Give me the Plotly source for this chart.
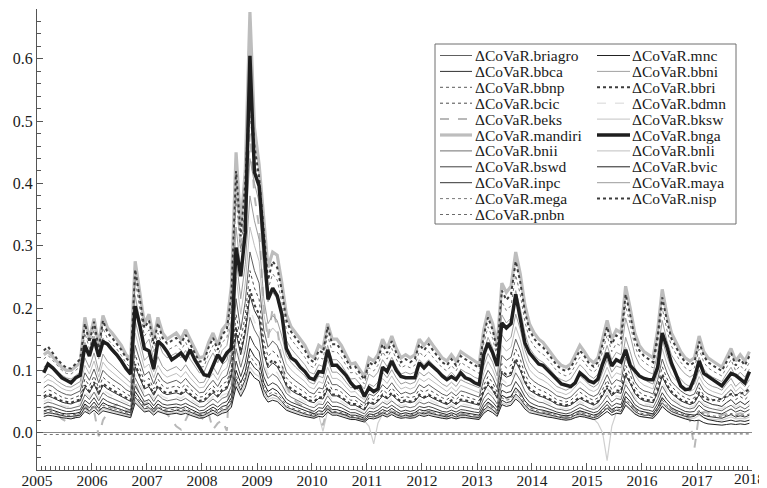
import pandas as pd
import plotly.graph_objects as go

# monthly observations, Feb 2005 .. Dec 2017 (plotted mid-month)
dates = pd.date_range("2005-02-01", "2017-12-01", freq="MS") + pd.Timedelta(days=14)
year_ticks = [str(y) for y in range(2005, 2019)]

bnga = [
 0.096,0.110,0.104,0.096,0.088,0.084,0.080,0.088,0.092,0.140,0.123,
 0.150,0.122,0.146,0.142,0.133,0.125,0.115,0.103,0.094,0.203,0.172,0.135,
 0.131,0.102,0.147,0.140,0.130,0.117,0.122,0.128,0.118,0.133,0.117,0.105,
 0.093,0.091,0.107,0.125,0.115,0.128,0.135,0.297,0.251,0.321,0.605,0.418,
 0.396,0.300,0.214,0.232,0.220,0.190,0.135,0.120,0.115,0.105,0.098,0.088,
 0.085,0.098,0.097,0.133,0.108,0.108,0.100,0.092,0.080,0.072,0.074,0.058,
 0.072,0.066,0.070,0.105,0.098,0.115,0.100,0.090,0.088,0.088,0.088,0.112,
 0.104,0.112,0.106,0.099,0.091,0.085,0.090,0.085,0.096,0.088,0.085,0.080,
 0.077,0.125,0.144,0.128,0.107,0.176,0.168,0.175,0.222,0.185,0.144,0.128,
 0.118,0.110,0.108,0.100,0.092,0.085,0.078,0.076,0.074,0.080,0.096,0.090,
 0.083,0.080,0.086,0.110,0.128,0.107,0.117,0.113,0.133,0.108,0.099,0.091,
 0.087,0.085,0.085,0.105,0.160,0.138,0.112,0.092,0.075,0.069,0.070,0.088,
 0.115,0.095,0.090,0.085,0.079,0.075,0.085,0.095,0.092,0.086,0.080,0.098]

mandiri = [
 0.125,0.130,0.122,0.113,0.105,0.100,0.100,0.106,0.112,0.185,0.150,
 0.183,0.140,0.188,0.168,0.160,0.150,0.140,0.125,0.118,0.275,0.225,0.175,
 0.190,0.150,0.185,0.160,0.150,0.155,0.160,0.150,0.165,0.150,0.135,0.120,
 0.122,0.145,0.160,0.140,0.165,0.175,0.235,0.450,0.330,0.420,0.675,0.490,
 0.430,0.350,0.265,0.290,0.285,0.240,0.190,0.170,0.160,0.150,0.140,0.125,
 0.120,0.140,0.135,0.175,0.150,0.150,0.140,0.125,0.110,0.112,0.100,0.090,
 0.120,0.115,0.125,0.150,0.135,0.155,0.135,0.120,0.125,0.120,0.125,0.150,
 0.140,0.150,0.140,0.130,0.120,0.115,0.125,0.115,0.130,0.125,0.120,0.115,
 0.110,0.165,0.195,0.175,0.140,0.240,0.225,0.235,0.290,0.255,0.205,0.175,
 0.160,0.150,0.145,0.135,0.125,0.115,0.108,0.105,0.110,0.125,0.140,0.130,
 0.118,0.112,0.120,0.150,0.180,0.150,0.165,0.160,0.235,0.200,0.160,0.140,
 0.130,0.125,0.120,0.165,0.230,0.190,0.160,0.145,0.130,0.120,0.115,0.120,
 0.155,0.130,0.120,0.115,0.110,0.105,0.120,0.135,0.115,0.125,0.115,0.130]

bbri = [
 0.132,0.138,0.128,0.118,0.110,0.104,0.103,0.110,0.118,0.175,0.145,
 0.178,0.135,0.180,0.160,0.152,0.143,0.133,0.120,0.112,0.262,0.212,0.168,
 0.180,0.142,0.176,0.152,0.143,0.147,0.152,0.143,0.157,0.142,0.128,0.114,
 0.115,0.137,0.152,0.133,0.157,0.166,0.220,0.420,0.315,0.400,0.560,0.460,
 0.410,0.320,0.245,0.275,0.265,0.228,0.180,0.162,0.152,0.142,0.132,0.118,
 0.113,0.132,0.128,0.170,0.142,0.142,0.132,0.118,0.104,0.106,0.095,0.085,
 0.113,0.108,0.118,0.142,0.128,0.147,0.128,0.113,0.118,0.113,0.118,0.142,
 0.132,0.142,0.132,0.123,0.113,0.108,0.118,0.108,0.123,0.118,0.113,0.108,
 0.104,0.156,0.185,0.165,0.132,0.228,0.213,0.222,0.275,0.242,0.194,0.165,
 0.151,0.142,0.137,0.128,0.118,0.108,0.102,0.099,0.104,0.118,0.132,0.123,
 0.111,0.106,0.113,0.142,0.170,0.142,0.156,0.151,0.222,0.189,0.151,0.132,
 0.123,0.118,0.113,0.156,0.217,0.180,0.151,0.137,0.123,0.113,0.108,0.113,
 0.146,0.123,0.113,0.108,0.104,0.099,0.113,0.128,0.108,0.118,0.108,0.123]

mega = [
 0.118,0.124,0.116,0.108,0.100,0.095,0.094,0.100,0.106,0.160,0.135,
 0.165,0.128,0.168,0.150,0.142,0.134,0.124,0.112,0.104,0.245,0.198,0.155,
 0.165,0.130,0.160,0.140,0.132,0.136,0.140,0.132,0.145,0.130,0.118,0.105,
 0.106,0.126,0.140,0.122,0.145,0.152,0.200,0.380,0.290,0.370,0.510,0.440,
 0.390,0.300,0.230,0.255,0.245,0.210,0.165,0.150,0.140,0.130,0.121,0.108,
 0.104,0.121,0.118,0.156,0.130,0.130,0.121,0.108,0.096,0.097,0.087,0.078,
 0.104,0.099,0.108,0.130,0.118,0.135,0.118,0.104,0.108,0.104,0.108,0.130,
 0.121,0.130,0.121,0.113,0.104,0.099,0.108,0.099,0.113,0.108,0.104,0.099,
 0.095,0.143,0.170,0.151,0.121,0.210,0.196,0.204,0.253,0.222,0.178,0.151,
 0.139,0.130,0.126,0.118,0.108,0.099,0.094,0.091,0.095,0.108,0.121,0.113,
 0.102,0.097,0.104,0.130,0.156,0.130,0.143,0.139,0.204,0.174,0.139,0.121,
 0.113,0.108,0.104,0.143,0.200,0.165,0.139,0.126,0.113,0.104,0.099,0.104,
 0.134,0.113,0.104,0.099,0.095,0.091,0.104,0.117,0.099,0.108,0.099,0.113]

bbni = [
 0.105,0.112,0.106,0.098,0.092,0.088,0.086,0.092,0.097,0.145,0.125,
 0.155,0.118,0.152,0.138,0.130,0.122,0.113,0.103,0.096,0.220,0.180,0.140,
 0.150,0.118,0.148,0.128,0.120,0.124,0.128,0.120,0.132,0.118,0.107,0.096,
 0.097,0.115,0.128,0.112,0.132,0.140,0.180,0.330,0.260,0.320,0.440,0.400,
 0.370,0.260,0.210,0.225,0.215,0.185,0.148,0.135,0.126,0.117,0.109,0.097,
 0.094,0.109,0.106,0.140,0.117,0.117,0.109,0.097,0.086,0.087,0.078,0.070,
 0.094,0.089,0.097,0.117,0.106,0.121,0.106,0.094,0.097,0.094,0.097,0.117,
 0.109,0.117,0.109,0.102,0.094,0.089,0.097,0.089,0.102,0.097,0.094,0.089,
 0.086,0.129,0.153,0.136,0.109,0.189,0.176,0.184,0.228,0.200,0.160,0.136,
 0.125,0.117,0.113,0.106,0.097,0.089,0.085,0.082,0.086,0.097,0.109,0.102,
 0.092,0.087,0.094,0.117,0.140,0.117,0.129,0.125,0.184,0.157,0.125,0.109,
 0.102,0.097,0.094,0.129,0.180,0.148,0.125,0.113,0.102,0.094,0.089,0.094,
 0.121,0.102,0.094,0.089,0.086,0.082,0.094,0.105,0.089,0.097,0.089,0.102]

maya = [
 0.088,0.094,0.090,0.083,0.078,0.074,0.073,0.078,0.082,0.120,0.104,
 0.128,0.098,0.126,0.114,0.108,0.101,0.094,0.086,0.080,0.180,0.148,0.116,
 0.124,0.098,0.122,0.106,0.099,0.103,0.106,0.099,0.109,0.098,0.089,0.080,
 0.081,0.096,0.106,0.093,0.109,0.116,0.150,0.280,0.215,0.270,0.380,0.340,
 0.310,0.215,0.175,0.188,0.180,0.155,0.124,0.113,0.105,0.098,0.091,0.081,
 0.078,0.091,0.088,0.117,0.097,0.097,0.091,0.081,0.072,0.073,0.065,0.059,
 0.078,0.074,0.081,0.097,0.088,0.101,0.088,0.078,0.081,0.078,0.081,0.097,
 0.091,0.097,0.091,0.085,0.078,0.074,0.081,0.074,0.085,0.081,0.078,0.074,
 0.072,0.107,0.127,0.113,0.091,0.157,0.146,0.153,0.190,0.166,0.133,0.113,
 0.104,0.097,0.094,0.088,0.081,0.074,0.071,0.068,0.072,0.081,0.091,0.085,
 0.077,0.073,0.078,0.097,0.117,0.097,0.107,0.104,0.153,0.130,0.104,0.091,
 0.085,0.081,0.078,0.107,0.150,0.123,0.104,0.094,0.085,0.078,0.074,0.078,
 0.101,0.085,0.078,0.074,0.072,0.068,0.078,0.087,0.074,0.081,0.074,0.085]

bnli = [
 0.080,0.085,0.082,0.076,0.071,0.068,0.067,0.071,0.075,0.108,0.094,
 0.115,0.089,0.113,0.103,0.097,0.091,0.085,0.078,0.072,0.160,0.132,0.104,
 0.110,0.088,0.108,0.095,0.089,0.092,0.095,0.089,0.098,0.088,0.080,0.072,
 0.073,0.086,0.095,0.084,0.098,0.104,0.135,0.250,0.190,0.240,0.330,0.300,
 0.275,0.190,0.156,0.168,0.160,0.138,0.111,0.101,0.094,0.088,0.082,0.073,
 0.070,0.082,0.079,0.105,0.087,0.087,0.082,0.073,0.065,0.066,0.058,0.053,
 0.070,0.066,0.073,0.087,0.079,0.091,0.079,0.070,0.073,0.070,0.073,0.087,
 0.082,0.087,0.082,0.076,0.070,0.066,0.073,0.066,0.076,0.073,0.070,0.066,
 0.064,0.096,0.114,0.101,0.082,0.140,0.131,0.137,0.170,0.149,0.119,0.101,
 0.093,0.087,0.084,0.079,0.073,0.066,0.064,0.061,0.065,0.073,0.082,0.076,
 0.069,0.066,0.070,0.087,0.105,0.087,0.096,0.093,0.137,0.117,0.093,0.082,
 0.076,0.073,0.070,0.096,0.135,0.110,0.093,0.084,0.076,0.070,0.066,0.070,
 0.090,0.076,0.070,0.066,0.064,0.061,0.070,0.078,0.066,0.073,0.066,0.076]

briagro = [
 0.072,0.077,0.074,0.068,0.064,0.061,0.060,0.064,0.067,0.096,0.084,
 0.102,0.080,0.100,0.092,0.086,0.081,0.076,0.069,0.065,0.140,0.117,0.092,
 0.098,0.078,0.096,0.084,0.079,0.082,0.084,0.079,0.087,0.078,0.071,0.064,
 0.065,0.076,0.084,0.074,0.087,0.092,0.118,0.215,0.165,0.210,0.290,0.260,
 0.240,0.165,0.137,0.147,0.140,0.121,0.098,0.089,0.083,0.078,0.072,0.065,
 0.062,0.072,0.070,0.092,0.077,0.077,0.072,0.065,0.058,0.058,0.052,0.047,
 0.062,0.059,0.065,0.077,0.070,0.080,0.070,0.062,0.065,0.062,0.065,0.077,
 0.072,0.077,0.072,0.067,0.062,0.059,0.065,0.059,0.067,0.065,0.062,0.059,
 0.057,0.085,0.100,0.089,0.072,0.124,0.116,0.121,0.150,0.132,0.105,0.089,
 0.082,0.077,0.074,0.070,0.065,0.059,0.057,0.054,0.057,0.065,0.072,0.067,
 0.061,0.058,0.062,0.077,0.093,0.077,0.085,0.082,0.121,0.103,0.082,0.072,
 0.067,0.065,0.062,0.085,0.118,0.097,0.082,0.074,0.067,0.062,0.059,0.062,
 0.080,0.067,0.062,0.059,0.057,0.054,0.062,0.069,0.059,0.065,0.059,0.067]

bcic = [
 0.064,0.069,0.066,0.061,0.057,0.055,0.054,0.057,0.060,0.086,0.075,
 0.091,0.071,0.089,0.082,0.077,0.072,0.068,0.062,0.058,0.125,0.104,0.082,
 0.087,0.070,0.086,0.075,0.071,0.073,0.075,0.071,0.078,0.070,0.064,0.057,
 0.058,0.068,0.075,0.066,0.078,0.082,0.105,0.190,0.148,0.188,0.260,0.232,
 0.214,0.148,0.122,0.131,0.125,0.108,0.088,0.080,0.074,0.070,0.065,0.058,
 0.056,0.065,0.063,0.082,0.069,0.069,0.065,0.058,0.052,0.052,0.047,0.042,
 0.056,0.053,0.058,0.069,0.063,0.072,0.063,0.056,0.058,0.056,0.058,0.069,
 0.065,0.069,0.065,0.060,0.056,0.053,0.058,0.053,0.060,0.058,0.056,0.053,
 0.051,0.076,0.090,0.080,0.065,0.111,0.104,0.108,0.134,0.118,0.094,0.080,
 0.074,0.069,0.067,0.063,0.058,0.053,0.051,0.049,0.052,0.058,0.065,0.060,
 0.055,0.052,0.056,0.069,0.084,0.069,0.076,0.074,0.108,0.093,0.074,0.065,
 0.060,0.058,0.056,0.076,0.106,0.087,0.074,0.067,0.060,0.056,0.053,0.056,
 0.072,0.060,0.056,0.053,0.051,0.049,0.056,0.062,0.053,0.058,0.053,0.060]

bbca = [
 0.055,0.059,0.056,0.052,0.049,0.047,0.046,0.049,0.051,0.073,0.064,
 0.078,0.061,0.076,0.070,0.066,0.062,0.058,0.053,0.050,0.106,0.088,0.070,
 0.074,0.060,0.073,0.064,0.061,0.062,0.064,0.061,0.066,0.060,0.055,0.049,
 0.050,0.058,0.064,0.057,0.066,0.070,0.090,0.160,0.125,0.160,0.220,0.196,
 0.182,0.126,0.104,0.112,0.106,0.092,0.075,0.068,0.063,0.060,0.055,0.050,
 0.048,0.055,0.054,0.070,0.059,0.059,0.055,0.050,0.044,0.044,0.040,0.036,
 0.048,0.045,0.050,0.059,0.054,0.061,0.054,0.048,0.050,0.048,0.050,0.059,
 0.055,0.059,0.055,0.051,0.048,0.045,0.050,0.045,0.051,0.050,0.048,0.045,
 0.044,0.065,0.077,0.068,0.055,0.095,0.089,0.092,0.114,0.100,0.080,0.068,
 0.063,0.059,0.057,0.054,0.050,0.045,0.044,0.042,0.044,0.050,0.055,0.051,
 0.047,0.044,0.048,0.059,0.072,0.059,0.065,0.063,0.092,0.079,0.063,0.055,
 0.051,0.050,0.048,0.065,0.090,0.074,0.063,0.057,0.051,0.048,0.045,0.048,
 0.061,0.051,0.048,0.045,0.044,0.042,0.048,0.053,0.045,0.050,0.045,0.051]

nisp = [
 0.058,0.062,0.059,0.054,0.051,0.049,0.048,0.051,0.053,0.076,0.066,
 0.081,0.064,0.079,0.073,0.069,0.065,0.061,0.056,0.052,0.110,0.092,0.073,
 0.077,0.062,0.076,0.067,0.063,0.065,0.067,0.063,0.069,0.062,0.057,0.051,
 0.052,0.060,0.067,0.059,0.069,0.073,0.094,0.170,0.130,0.165,0.230,0.205,
 0.190,0.131,0.108,0.117,0.110,0.096,0.078,0.071,0.066,0.062,0.057,0.052,
 0.050,0.057,0.056,0.073,0.061,0.061,0.057,0.052,0.046,0.046,0.042,0.038,
 0.050,0.047,0.052,0.061,0.056,0.064,0.056,0.050,0.052,0.050,0.052,0.061,
 0.057,0.061,0.057,0.053,0.050,0.047,0.052,0.047,0.053,0.052,0.050,0.047,
 0.046,0.068,0.080,0.071,0.057,0.099,0.093,0.096,0.119,0.104,0.083,0.071,
 0.066,0.061,0.059,0.056,0.052,0.047,0.046,0.044,0.046,0.052,0.057,0.053,
 0.049,0.046,0.050,0.061,0.075,0.061,0.068,0.066,0.096,0.082,0.066,0.057,
 0.053,0.052,0.050,0.068,0.094,0.077,0.066,0.059,0.053,0.050,0.047,0.050,
 0.064,0.056,0.053,0.052,0.053,0.054,0.058,0.062,0.060,0.063,0.065,0.070]

bnii = [
 0.046,0.049,0.047,0.044,0.041,0.039,0.039,0.041,0.043,0.061,0.053,
 0.065,0.051,0.064,0.058,0.055,0.052,0.049,0.045,0.042,0.088,0.073,0.058,
 0.062,0.050,0.061,0.054,0.051,0.052,0.054,0.051,0.055,0.050,0.046,0.041,
 0.042,0.049,0.054,0.048,0.055,0.058,0.075,0.135,0.105,0.132,0.185,0.165,
 0.152,0.105,0.087,0.094,0.089,0.077,0.063,0.057,0.053,0.050,0.046,0.042,
 0.040,0.046,0.045,0.059,0.049,0.049,0.046,0.042,0.037,0.037,0.034,0.030,
 0.040,0.038,0.042,0.049,0.045,0.051,0.045,0.040,0.042,0.040,0.042,0.049,
 0.046,0.049,0.046,0.043,0.040,0.038,0.042,0.038,0.043,0.042,0.040,0.038,
 0.037,0.055,0.064,0.057,0.046,0.079,0.074,0.077,0.096,0.084,0.067,0.057,
 0.053,0.049,0.048,0.045,0.042,0.038,0.037,0.035,0.037,0.042,0.046,0.043,
 0.039,0.037,0.040,0.049,0.060,0.049,0.055,0.053,0.077,0.066,0.053,0.046,
 0.043,0.042,0.040,0.055,0.075,0.062,0.053,0.048,0.043,0.040,0.038,0.040,
 0.051,0.043,0.040,0.038,0.037,0.035,0.040,0.044,0.038,0.042,0.038,0.043]

bswd = [
 0.040,0.042,0.041,0.038,0.036,0.034,0.034,0.036,0.037,0.052,0.046,
 0.056,0.044,0.055,0.050,0.047,0.045,0.042,0.039,0.036,0.075,0.062,0.050,
 0.053,0.043,0.052,0.046,0.044,0.045,0.046,0.044,0.047,0.043,0.040,0.035,
 0.036,0.042,0.046,0.041,0.047,0.050,0.064,0.115,0.090,0.112,0.155,0.140,
 0.130,0.090,0.075,0.080,0.076,0.066,0.054,0.049,0.046,0.043,0.040,0.036,
 0.034,0.040,0.039,0.050,0.042,0.042,0.040,0.036,0.032,0.032,0.029,0.026,
 0.034,0.033,0.036,0.042,0.039,0.044,0.039,0.034,0.036,0.034,0.036,0.042,
 0.040,0.042,0.040,0.037,0.034,0.033,0.036,0.033,0.037,0.036,0.034,0.033,
 0.032,0.047,0.055,0.049,0.040,0.068,0.064,0.066,0.082,0.072,0.058,0.049,
 0.045,0.042,0.041,0.039,0.036,0.033,0.032,0.030,0.032,0.036,0.040,0.037,
 0.034,0.032,0.034,0.042,0.051,0.042,0.047,0.045,0.066,0.057,0.045,0.040,
 0.037,0.036,0.034,0.047,0.064,0.053,0.045,0.041,0.037,0.034,0.033,0.034,
 0.044,0.037,0.034,0.033,0.032,0.030,0.034,0.038,0.033,0.036,0.033,0.037]

mnc = [
 0.035,0.037,0.036,0.033,0.031,0.030,0.030,0.031,0.033,0.046,0.040,
 0.049,0.039,0.048,0.044,0.042,0.040,0.037,0.034,0.032,0.066,0.055,0.044,
 0.047,0.038,0.046,0.041,0.039,0.040,0.041,0.039,0.042,0.038,0.035,0.031,
 0.032,0.037,0.041,0.036,0.042,0.044,0.056,0.100,0.080,0.098,0.135,0.122,
 0.114,0.080,0.066,0.071,0.067,0.058,0.048,0.044,0.041,0.038,0.035,0.032,
 0.030,0.035,0.034,0.044,0.037,0.037,0.035,0.032,0.028,0.028,0.026,0.023,
 0.030,0.029,0.032,0.037,0.034,0.039,0.034,0.030,0.032,0.030,0.032,0.037,
 0.035,0.037,0.035,0.033,0.030,0.029,0.032,0.029,0.033,0.032,0.030,0.029,
 0.028,0.041,0.049,0.043,0.035,0.060,0.056,0.058,0.072,0.064,0.051,0.043,
 0.040,0.037,0.036,0.034,0.032,0.029,0.028,0.027,0.028,0.032,0.035,0.033,
 0.030,0.028,0.030,0.037,0.045,0.037,0.041,0.040,0.058,0.050,0.040,0.035,
 0.033,0.032,0.030,0.041,0.056,0.047,0.040,0.036,0.033,0.030,0.029,0.028,
 0.030,0.024,0.021,0.019,0.018,0.017,0.018,0.020,0.018,0.019,0.018,0.020]

inpc = [
 0.030,0.032,0.031,0.029,0.027,0.026,0.026,0.027,0.028,0.040,0.035,
 0.042,0.034,0.041,0.038,0.036,0.034,0.032,0.030,0.028,0.057,0.048,0.038,
 0.040,0.033,0.040,0.036,0.034,0.034,0.036,0.034,0.036,0.033,0.030,0.027,
 0.028,0.032,0.036,0.031,0.036,0.038,0.048,0.086,0.068,0.085,0.115,0.104,
 0.098,0.069,0.057,0.061,0.058,0.050,0.041,0.038,0.035,0.033,0.030,0.028,
 0.026,0.030,0.029,0.038,0.032,0.032,0.030,0.028,0.024,0.024,0.022,0.020,
 0.026,0.025,0.028,0.032,0.029,0.033,0.029,0.026,0.028,0.026,0.028,0.032,
 0.030,0.032,0.030,0.028,0.026,0.025,0.028,0.025,0.028,0.028,0.026,0.025,
 0.024,0.036,0.042,0.037,0.030,0.052,0.048,0.050,0.062,0.055,0.044,0.037,
 0.034,0.032,0.031,0.029,0.028,0.025,0.024,0.023,0.024,0.028,0.030,0.028,
 0.026,0.024,0.026,0.032,0.039,0.032,0.036,0.034,0.050,0.043,0.034,0.030,
 0.028,0.028,0.026,0.036,0.048,0.040,0.034,0.031,0.028,0.026,0.025,0.026,
 0.034,0.028,0.026,0.025,0.024,0.023,0.026,0.029,0.025,0.027,0.025,0.028]

bvic = [
 0.026,0.028,0.027,0.025,0.024,0.023,0.022,0.024,0.025,0.034,0.030,
 0.036,0.029,0.035,0.033,0.031,0.029,0.028,0.026,0.024,0.048,0.041,0.033,
 0.035,0.028,0.034,0.031,0.029,0.030,0.031,0.029,0.031,0.028,0.026,0.023,
 0.024,0.028,0.031,0.027,0.031,0.033,0.041,0.074,0.058,0.072,0.098,0.088,
 0.083,0.059,0.049,0.052,0.050,0.043,0.036,0.033,0.030,0.028,0.026,0.024,
 0.023,0.026,0.025,0.033,0.028,0.028,0.026,0.024,0.021,0.021,0.019,0.017,
 0.023,0.022,0.024,0.028,0.025,0.029,0.025,0.023,0.024,0.023,0.024,0.028,
 0.026,0.028,0.026,0.024,0.023,0.022,0.024,0.022,0.024,0.024,0.023,0.022,
 0.021,0.031,0.036,0.032,0.026,0.045,0.042,0.044,0.054,0.048,0.038,0.032,
 0.030,0.028,0.027,0.025,0.024,0.022,0.021,0.020,0.021,0.024,0.026,0.025,
 0.023,0.021,0.023,0.028,0.034,0.028,0.031,0.030,0.044,0.037,0.030,0.026,
 0.025,0.024,0.023,0.031,0.042,0.035,0.030,0.027,0.024,0.022,0.020,0.019,
 0.020,0.016,0.014,0.013,0.012,0.012,0.013,0.014,0.013,0.014,0.013,0.015]

pnbn = [
 0.033,0.035,0.033,0.031,0.029,0.028,0.028,0.029,0.031,0.043,0.037,
 0.045,0.036,0.044,0.041,0.039,0.037,0.034,0.032,0.030,0.060,0.051,0.040,
 0.043,0.035,0.042,0.038,0.036,0.037,0.038,0.036,0.039,0.035,0.032,0.029,
 0.030,0.034,0.038,0.034,0.039,0.041,0.052,0.092,0.073,0.090,0.124,0.112,
 0.105,0.074,0.061,0.065,0.062,0.054,0.044,0.040,0.038,0.035,0.032,0.030,
 0.028,0.032,0.031,0.041,0.034,0.034,0.032,0.030,0.026,0.026,0.024,0.021,
 0.028,0.027,0.030,0.034,0.031,0.036,0.031,0.028,0.030,0.028,0.030,0.034,
 0.032,0.034,0.032,0.030,0.028,0.027,0.030,0.027,0.030,0.030,0.028,0.027,
 0.026,0.038,0.045,0.040,0.032,0.056,0.052,0.054,0.066,0.059,0.047,0.040,
 0.037,0.034,0.033,0.031,0.030,0.027,0.026,0.025,0.026,0.030,0.032,0.030,
 0.028,0.026,0.028,0.034,0.042,0.034,0.038,0.037,0.054,0.046,0.037,0.032,
 0.030,0.030,0.028,0.038,0.052,0.043,0.037,0.033,0.030,0.028,0.027,0.028,
 0.036,0.030,0.028,0.027,0.026,0.025,0.028,0.031,0.027,0.029,0.027,0.030]

bksw = [
 0.030,0.032,0.030,0.028,0.026,0.025,0.025,0.026,0.028,0.038,0.033,
 0.040,0.032,0.039,0.036,0.034,0.032,0.030,0.028,0.026,0.052,0.044,0.035,
 0.037,0.030,0.036,0.033,0.031,0.032,0.033,0.031,0.034,0.030,0.028,0.025,
 0.026,0.030,0.033,0.029,0.034,0.036,0.045,0.080,0.063,0.078,0.105,0.095,
 0.090,0.064,0.053,0.056,0.054,0.046,0.038,0.035,0.033,0.030,0.028,0.026,
 0.024,0.028,0.002,0.035,0.030,0.030,0.028,0.026,0.022,0.022,0.021,0.019,
 0.010,-0.018,0.015,0.030,0.027,0.031,0.027,0.024,0.026,0.024,0.026,0.030,
 0.028,0.030,0.028,0.026,0.024,0.023,0.025,0.023,0.026,0.025,0.024,0.023,
 0.022,0.033,0.039,0.035,0.028,0.048,0.045,0.047,0.058,0.051,0.041,0.035,
 0.032,0.030,0.029,0.027,0.026,0.023,0.022,0.021,0.022,0.025,0.028,0.026,
 0.024,0.022,0.015,0.000,-0.045,0.010,0.032,0.031,0.045,0.039,0.031,0.027,
 0.025,0.024,0.023,0.032,0.044,0.036,0.031,0.028,0.025,0.023,0.022,0.023,
 0.028,0.024,0.022,0.022,0.021,0.020,0.022,0.025,0.022,0.023,0.022,0.025]

beks = [
 0.040,0.042,0.036,0.030,0.022,0.018,0.020,0.026,0.032,0.045,0.030,
 0.035,-0.006,0.020,0.032,0.040,0.045,0.040,0.036,0.034,0.080,0.060,0.045,
 0.050,0.035,0.045,0.040,0.030,0.020,0.010,0.005,0.020,0.035,0.030,0.028,
 0.020,0.030,0.005,0.015,0.020,0.003,0.150,0.400,0.290,0.350,0.480,0.380,
 0.330,0.200,0.150,0.200,0.170,0.110,0.075,0.060,0.050,0.045,0.040,0.035,
 0.030,0.020,0.012,0.040,0.032,0.030,0.030,0.028,0.025,0.025,0.022,0.020,
 0.025,0.024,0.026,0.032,0.030,0.034,0.030,0.027,0.028,0.027,0.028,0.034,
 0.032,0.034,0.032,0.030,0.027,0.026,0.028,0.026,0.030,0.028,0.027,0.026,
 0.025,0.040,0.048,0.042,0.034,0.060,0.055,0.058,0.072,0.062,0.050,0.042,
 0.038,0.035,0.034,0.032,0.030,0.027,0.026,0.025,0.026,0.030,0.034,0.031,
 0.029,0.027,0.029,0.035,0.043,0.035,0.040,0.038,0.055,0.048,0.038,0.034,
 0.031,0.030,0.029,0.040,0.055,0.045,0.038,0.034,0.031,0.028,0.020,-0.025,
 0.030,0.033,0.032,0.030,0.029,0.028,0.030,0.033,0.029,0.031,0.029,0.032]

bdmn = [
 0.050,0.053,0.051,0.047,0.044,0.042,0.042,0.044,0.046,0.066,0.057,
 0.070,0.055,0.068,0.063,0.059,0.056,0.052,0.048,0.045,0.094,0.079,0.063,
 0.067,0.054,0.066,0.058,0.055,0.056,0.058,0.055,0.060,0.054,0.049,0.044,
 0.045,0.052,0.058,0.051,0.060,0.063,0.080,0.145,0.113,0.142,0.200,0.178,
 0.165,0.114,0.094,0.101,0.096,0.083,0.068,0.062,0.057,0.054,0.050,0.045,
 0.043,0.050,0.049,0.063,0.053,0.053,0.050,0.045,0.040,0.040,0.036,0.032,
 0.043,0.041,0.045,0.053,0.049,0.055,0.049,0.043,0.045,0.043,0.045,0.053,
 0.050,0.053,0.050,0.046,0.043,0.041,0.045,0.041,0.046,0.045,0.043,0.041,
 0.040,0.059,0.069,0.062,0.050,0.086,0.080,0.083,0.103,0.090,0.072,0.062,
 0.057,0.053,0.052,0.049,0.045,0.041,0.040,0.038,0.040,0.045,0.050,0.046,
 0.042,0.040,0.043,0.053,0.065,0.053,0.059,0.057,0.083,0.071,0.057,0.050,
 0.046,0.045,0.043,0.059,0.081,0.067,0.057,0.051,0.046,0.043,0.041,0.043,
 0.055,0.046,0.043,0.041,0.040,0.038,0.043,0.048,0.041,0.045,0.041,0.046]

bbnp = [
 -0.003,-0.003,-0.003,-0.003,-0.003,-0.003,-0.003,-0.003,-0.003,-0.003,-0.003,
 -0.003,-0.003,-0.003,-0.003,-0.003,-0.003,-0.002,-0.002,-0.002,-0.002,-0.002,-0.002,
 -0.002,-0.002,-0.002,-0.002,-0.002,-0.002,-0.002,-0.002,-0.002,-0.002,-0.002,-0.002,
 -0.002,-0.002,-0.002,-0.002,-0.002,-0.002,-0.002,-0.002,-0.002,-0.002,-0.002,-0.002,
 -0.002,-0.002,-0.002,-0.002,-0.002,-0.002,-0.002,-0.002,-0.002,-0.002,-0.002,-0.002,
 -0.002,-0.002,-0.002,-0.002,-0.002,-0.002,-0.002,-0.002,-0.002,-0.002,-0.002,-0.002,
 -0.002,-0.002,-0.002,-0.002,-0.002,-0.002,-0.002,-0.002,-0.002,-0.002,-0.002,-0.002,
 -0.002,-0.002,-0.002,-0.002,-0.002,-0.002,-0.002,-0.002,-0.002,-0.002,-0.002,-0.002,
 -0.002,-0.002,-0.002,-0.002,-0.002,-0.002,-0.002,-0.002,-0.002,-0.002,-0.002,-0.002,
 -0.002,-0.002,-0.002,-0.002,-0.002,-0.002,-0.002,-0.002,-0.002,-0.002,-0.002,-0.002,
 -0.002,-0.002,-0.002,-0.002,-0.002,-0.002,-0.002,-0.002,-0.002,-0.002,-0.002,-0.002,
 -0.002,-0.002,-0.002,-0.002,-0.002,-0.002,-0.002,-0.002,-0.002,-0.002,-0.002,-0.002,
 -0.002,-0.002,-0.002,-0.002,-0.002,-0.002,-0.002,-0.002,-0.002,-0.002,-0.002,-0.002]

# legend columns (names as shown)
legend_col1 = ["briagro", "bbca", "bbnp", "bcic", "beks", "mandiri", "bnii",
               "bswd", "inpc", "mega", "pnbn"]
legend_col2 = ["mnc", "bbni", "bbri", "bdmn", "bksw", "bnga", "bnli",
               "bvic", "maya", "nisp"]

values = {"briagro": briagro, "bbca": bbca, "bbnp": bbnp, "bcic": bcic, "beks": beks,
          "mandiri": mandiri, "bnii": bnii, "bswd": bswd, "inpc": inpc, "mega": mega,
          "pnbn": pnbn, "mnc": mnc, "bbni": bbni, "bbri": bbri, "bdmn": bdmn,
          "bksw": bksw, "bnga": bnga, "bnli": bnli, "bvic": bvic, "maya": maya,
          "nisp": nisp}

# style: color, width, dash
style = {
    "briagro": ("#606060", 1.0, "solid"),
    "bbca": ("#303030", 1.0, "solid"),
    "bbnp": ("#7a7a7a", 1.2, "dot"),
    "bcic": ("#4a4a4a", 1.0, "dot"),
    "beks": ("#b8b8b8", 2.0, "dash"),
    "mandiri": ("#bdbdbd", 3.2, "solid"),
    "bnii": ("#6e6e6e", 1.0, "solid"),
    "bswd": ("#404040", 1.0, "solid"),
    "inpc": ("#333333", 1.0, "solid"),
    "mega": ("#7a7a7a", 1.0, "dot"),
    "pnbn": ("#6a6a6a", 1.0, "dot"),
    "mnc": ("#222222", 1.0, "solid"),
    "bbni": ("#a2a2a2", 1.0, "solid"),
    "bbri": ("#3c3c3c", 2.0, "dot"),
    "bdmn": ("#e4e4e4", 1.5, "dash"),
    "bksw": ("#cfcfcf", 1.2, "solid"),
    "bnga": ("#1e1e1e", 3.5, "solid"),
    "bnli": ("#bfbfbf", 1.0, "solid"),
    "bvic": ("#222222", 1.0, "solid"),
    "maya": ("#9c9c9c", 1.0, "solid"),
    "nisp": ("#3c3c3c", 2.0, "dot"),
}

draw_order = ["mandiri", "bdmn", "bksw", "bnli", "beks", "maya", "bbni", "mega",
              "briagro", "bcic", "bbca", "bnii", "bswd", "mnc", "inpc", "bvic",
              "pnbn", "bbnp", "nisp", "bbri", "bnga"]

for k, v in values.items():
    assert len(v) == len(dates), (k, len(v))

fig = go.Figure()
for name in draw_order:
    c, w, d = style[name]
    fig.add_trace(go.Scatter(x=dates, y=values[name], mode="lines",
                             name="\u0394CoVaR." + name, showlegend=False,
                             line=dict(color=c, width=w, dash=d)))

# The page places the figure 8px in from the top-left corner of the window,
# so the figure is sized 759x480 and laid out in window pixels minus 8.
OFF = 8
W, H = 767 - OFF, 488 - OFF
ML, MT = 37 - OFF, 9 - OFF
PR, PB = 752 - OFF, 470 - OFF
MR, MB = W - PR, H - PB
PW, PH = PR - ML, PB - MT


def px(x):
    return (x - OFF - ML) / PW


def py(y):
    return 1 - (y - OFF - MT) / PH


FONT = "Liberation Serif"
shapes = [dict(type="rect", xref="paper", yref="paper",
               x0=px(435), x1=px(736), y0=py(224), y1=py(44),
               line=dict(color="#6f6f6f", width=1), fillcolor="white", layer="above")]
annotations = []
for col, names in enumerate([legend_col1, legend_col2]):
    lx0 = 440 if col == 0 else 597
    lx1 = 472 if col == 0 else 630
    tx = 474 if col == 0 else 631
    for r, name in enumerate(names):
        yy = 55.5 + 15.9 * r
        c, w, d = style[name]
        shapes.append(dict(type="line", xref="paper", yref="paper",
                           x0=px(lx0), x1=px(lx1), y0=py(yy), y1=py(yy),
                           line=dict(color=c, width=w, dash=d), layer="above"))
        annotations.append(dict(xref="paper", yref="paper", x=px(tx), y=py(yy),
                                text="\u0394CoVaR." + name, showarrow=False,
                                xanchor="left", yanchor="middle", borderpad=0,
                                font=dict(family=FONT, size=15.5, color="#1a1a1a")))

# the last year label sits at the very right edge of the window: draw it as
# right-anchored text so that it is not clipped
tick_text = year_ticks[:-1] + [""]
annotations.append(dict(xref="paper", yref="paper", x=px(766), y=py(478.5),
                        text=year_ticks[-1], showarrow=False,
                        xanchor="right", yanchor="middle", borderpad=0,
                        font=dict(family=FONT, size=15.5, color="#1a1a1a")))

fig.update_layout(
    width=W, height=H,
    margin=dict(l=ML, r=MR, t=MT, b=MB, pad=0),
    paper_bgcolor="white", plot_bgcolor="white",
    showlegend=False,
    shapes=shapes, annotations=annotations,
    font=dict(family=FONT, size=16, color="#1a1a1a"),
    xaxis=dict(type="date", range=["2005-01-01", "2018-01-01 04:00"],
               tickvals=[f"{y}-01-01" for y in year_ticks], ticktext=tick_text,
               ticks="inside", ticklen=7, tickcolor="#555", tickwidth=1,
               showline=True, linecolor="#555", linewidth=1, showgrid=False,
               zeroline=False, automargin=False, ticklabelstandoff=-4,
               ticklabeloverflow="allow",
               minor=dict(dtick="M1", tick0="2005-01-01", ticks="inside",
                          ticklen=4, tickcolor="#555", showgrid=False),
               tickfont=dict(family=FONT, size=15.5, color="#1a1a1a")),
    yaxis=dict(range=[-0.06, 0.68], dtick=0.1, tick0=0, tickformat=".1f",
               ticks="inside", ticklen=6, tickcolor="#555", tickwidth=1,
               showline=True, linecolor="#555", linewidth=1, showgrid=False,
               zeroline=True, zerolinecolor="#8a8a8a", zerolinewidth=1,
               automargin=False,
               minor=dict(dtick=0.02, tick0=0, ticks="inside", ticklen=4,
                          tickcolor="#555", showgrid=False),
               tickfont=dict(family=FONT, size=16, color="#1a1a1a")),
)

fig.write_html("out.html")
